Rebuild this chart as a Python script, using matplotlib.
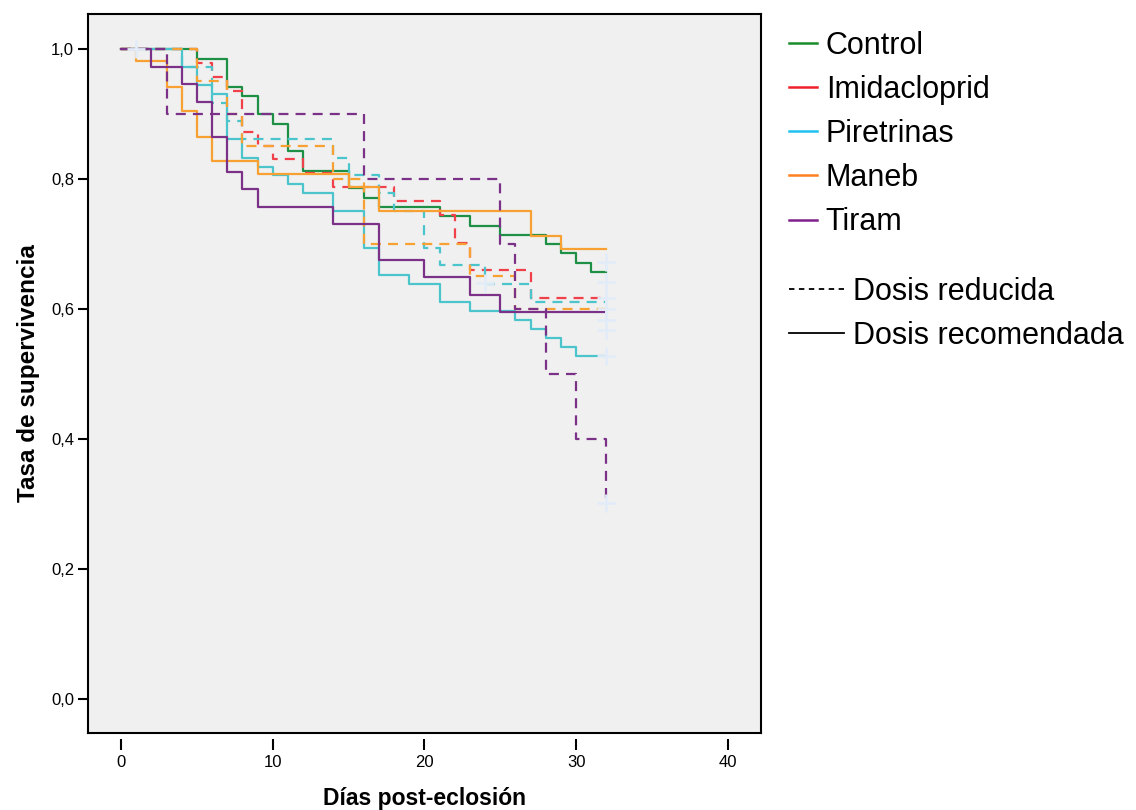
import numpy as np
import matplotlib
matplotlib.use('Agg')
from matplotlib import pyplot as plt
from matplotlib.lines import Line2D

plt.rcParams['font.family'] = ['Liberation Sans', 'DejaVu Sans']

# Kaplan-Meier curves (day, survival)
control_t = [0, 5, 7, 8, 9, 10, 11, 12, 15, 16, 17, 21, 23, 25, 28, 29, 30, 31, 32]
control_s = [1.0, 0.985, 0.942, 0.928, 0.900, 0.885, 0.843, 0.813, 0.786, 0.771,
             0.757, 0.743, 0.728, 0.714, 0.700, 0.686, 0.671, 0.657, 0.657]

imid_red_t = [0, 5, 6, 7, 8, 9, 10, 12, 14, 18, 21, 22, 23, 27, 32]
imid_red_s = [1.0, 0.979, 0.957, 0.936, 0.872, 0.851, 0.830, 0.809, 0.787, 0.766,
              0.745, 0.702, 0.660, 0.617, 0.617]

pir_rec_t = [0, 4, 5, 6, 7, 8, 9, 10, 11, 12, 14, 16, 17, 19, 21, 23, 26, 27, 28, 29, 30, 32]
pir_rec_s = [1.0, 0.972, 0.944, 0.931, 0.861, 0.833, 0.819, 0.806, 0.792, 0.778, 0.750,
             0.694, 0.653, 0.639, 0.611, 0.597, 0.583, 0.569, 0.556, 0.542, 0.528, 0.528]

pir_red_t = [0, 4, 6, 7, 8, 14, 15, 17, 18, 20, 21, 24, 27, 32]
pir_red_s = [1.0, 0.972, 0.917, 0.889, 0.861, 0.833, 0.806, 0.778, 0.750, 0.694,
             0.667, 0.639, 0.611, 0.611]

maneb_rec_t = [0, 1, 3, 4, 5, 6, 9, 15, 17, 27, 29, 32]
maneb_rec_s = [1.0, 0.981, 0.942, 0.904, 0.865, 0.827, 0.808, 0.788, 0.750, 0.712, 0.692, 0.692]

maneb_red_t = [0, 5, 7, 8, 14, 16, 23, 26, 32]
maneb_red_s = [1.0, 0.95, 0.90, 0.85, 0.80, 0.70, 0.65, 0.60, 0.60]

tiram_rec_t = [0, 2, 4, 5, 6, 7, 8, 9, 14, 17, 20, 23, 25, 32]
tiram_rec_s = [1.0, 0.973, 0.946, 0.919, 0.865, 0.811, 0.784, 0.757, 0.730, 0.676,
               0.649, 0.622, 0.595, 0.595]

tiram_red_t = [0, 3, 16, 25, 26, 28, 30, 32]
tiram_red_s = [1.0, 0.9, 0.8, 0.7, 0.6, 0.5, 0.4, 0.3]

# censored marks (light crosses)
cens_t = [1, 24, 32, 32, 32, 32, 32, 32, 32, 32]
cens_s = [1.0, 0.64, 0.673, 0.642, 0.617, 0.600, 0.583, 0.568, 0.528, 0.302]

groups = ['Control', 'Imidacloprid', 'Piretrinas', 'Maneb', 'Tiram']
line_colors = ['#1e9046', '#f0404a', '#4cc4cc', '#f9a032', '#7c3188']
legend_colors = ['#1a8c2a', '#f0202a', '#20c0f0', '#ff8020', '#80208a']
dose_labels = ['Dosis reducida', 'Dosis recomendada']

xticks = [0, 10, 20, 30, 40]
yticks = [0.0, 0.2, 0.4, 0.6, 0.8, 1.0]
ytick_labels = ['0,0', '0,2', '0,4', '0,6', '0,8', '1,0']

fig = plt.figure(figsize=(11.36, 8.1), dpi=100)
ax = fig.add_axes([0.0775, 0.0951, 0.5924, 0.8876])
ax.set_facecolor('#f0f0f0')

dash = (0, (4.5, 3.2))
lw = 1.6
curves = [
    (control_t, control_s, line_colors[0], '-'),
    (imid_red_t, imid_red_s, line_colors[1], dash),
    (pir_rec_t, pir_rec_s, line_colors[2], '-'),
    (pir_red_t, pir_red_s, line_colors[2], dash),
    (maneb_rec_t, maneb_rec_s, line_colors[3], '-'),
    (maneb_red_t, maneb_red_s, line_colors[3], dash),
    (tiram_rec_t, tiram_rec_s, line_colors[4], '-'),
    (tiram_red_t, tiram_red_s, line_colors[4], dash),
]
for t, s, c, ls in curves:
    ax.step(t, s, where='post', color=c, linestyle=ls, linewidth=lw)

ax.plot(cens_t, cens_s, linestyle='none', marker='+', markersize=13,
        markeredgewidth=2, color='#e2ecf8', zorder=5)

ax.set_xlim(-2.175, 42.19)
ax.set_ylim(-0.0523, 1.0538)
ax.set_xticks(xticks)
ax.set_yticks(yticks)
ax.set_yticklabels(ytick_labels)

# frame + detached x ticks like SPSS
ax.spines['bottom'].set_position(('outward', 4))
ax.spines['bottom'].set_color('none')
ax.plot([0, 1], [0, 0], transform=ax.transAxes, color='black', lw=1.5, clip_on=False)
for sp in ['left', 'top', 'right']:
    ax.spines[sp].set_linewidth(1.5)
ax.tick_params(axis='x', direction='out', length=8, width=1.5, labelsize=12, pad=4)
ax.tick_params(axis='y', direction='out', length=7, width=1.5, labelsize=12, pad=3)

ax.set_xlabel('Días post-eclosión', fontsize=16.5, fontweight='bold', labelpad=12)
ax.set_ylabel('Tasa de supervivencia', fontsize=17.5, fontweight='bold', labelpad=8)

# legends
h1 = [Line2D([], [], color=c, lw=1.8) for c in legend_colors]
leg1 = ax.legend(h1, groups, loc='upper left', bbox_to_anchor=(789 / 1136, 1 - 31 / 810),
                 bbox_transform=fig.transFigure, frameon=False, fontsize=22,
                 handlelength=0.9, handletextpad=0.3, labelspacing=0.46,
                 borderpad=0, borderaxespad=0)
ax.add_artist(leg1)
h2 = [Line2D([], [], color='black', lw=1.3, linestyle=(0, (3, 2.5))),
      Line2D([], [], color='black', lw=1.3)]
ax.legend(h2, dose_labels, loc='upper left', bbox_to_anchor=(789 / 1136, 1 - 277 / 810),
          bbox_transform=fig.transFigure, frameon=False, fontsize=22,
          handlelength=1.8, handletextpad=0.3, labelspacing=0.46,
          borderpad=0, borderaxespad=0)

fig.savefig('out.png', dpi=100, facecolor='white')
